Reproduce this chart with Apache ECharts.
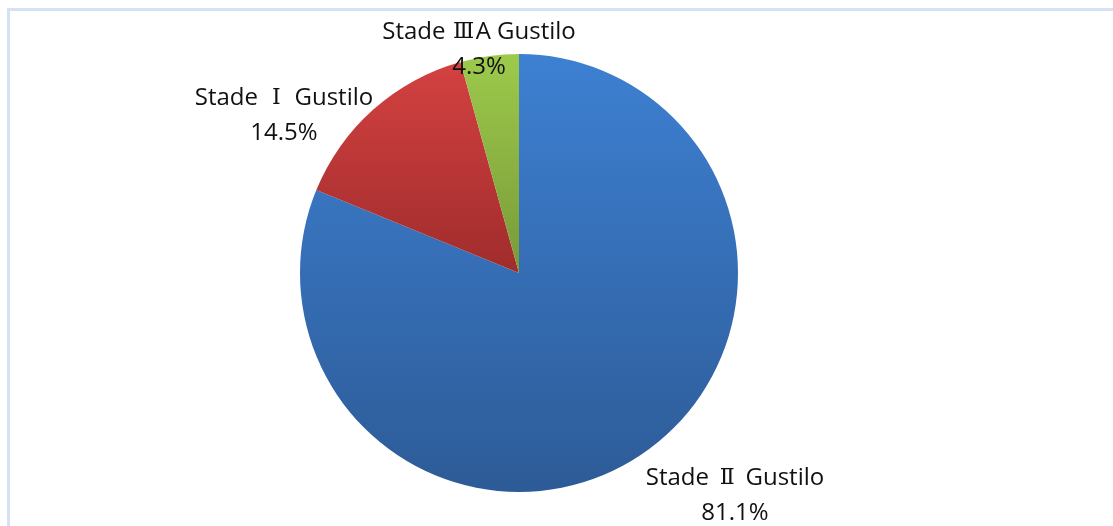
<!DOCTYPE html>
<html>
<head>
<meta charset="utf-8">
<style>
  html, body { margin: 0; padding: 0; background: #ffffff; }
  #chart { width: 1113px; height: 526px; }
</style>
<script src="https://cdn.jsdelivr.net/npm/echarts@6/dist/echarts.min.js"></script>
</head>
<body>
<div id="chart"></div>
<script>
// Gustilo stage breakdown (percent of cases)
var stageNames = ['Stade Ⅱ Gustilo', 'Stade Ⅰ Gustilo', 'Stade ⅢA Gustilo'];
var stageValues = [81.1, 14.5, 4.3];

// top / bottom shades for each slice
var sliceTop = ['#3d80d2', '#d44141', '#9dca4c'];
var sliceBottom = ['#2d5b97', '#a02c2c', '#789a38'];

// label anchor (centre of the two-line label) per slice
var labelPos = [[735, 496], [284, 116], [479, 50]];

var chart = echarts.init(document.getElementById('chart'), null, { renderer: 'canvas' });

var data = stageNames.map(function (name, i) {
  return {
    name: name,
    value: stageValues[i],
    itemStyle: {
      color: new echarts.graphic.LinearGradient(0, 0, 0, 1, [
        { offset: 0, color: sliceTop[i] },
        { offset: 1, color: sliceBottom[i] }
      ])
    }
  };
});

var labelFont = '"Open Sans", sans-serif';
var labelSize = 24;

chart.setOption({
  animation: false,
  backgroundColor: '#ffffff',
  graphic: [{
    type: 'rect',
    shape: { x: 8.5, y: 9.5, width: 1120, height: 530 },
    style: { fill: 'none', stroke: '#d5e2f4', lineWidth: 3 },
    silent: true
  }],
  series: [{
    type: 'pie',
    center: [519, 273],
    radius: [0, 219],
    startAngle: 90,
    clockwise: true,
    data: data,
    label: {
      show: true,
      position: 'outside',
      // roman numerals are set as full-width serif glyphs
      formatter: function (p) {
        var parts = p.name.split(/([\u2160-\u216B])/);
        var line = parts.map(function (s) {
          if (!s) return '';
          return /[\u2160-\u216B]/.test(s) ? '{r|' + s + '}' : '{t|' + s.replace(/ /g, '\u00a0') + '}';
        }).join('');
        return line + '\n{t|' + p.value + '%}';
      },
      color: '#111111',
      fontFamily: labelFont,
      fontSize: labelSize,
      lineHeight: 35,
      align: 'center',
      rich: {
        t: { fontFamily: labelFont, fontSize: labelSize, lineHeight: 35, color: '#111111' },
        r: {
          fontFamily: '"DejaVu Serif", serif', fontSize: labelSize - 2, lineHeight: 35,
          color: '#111111', width: 24, align: 'center'
        }
      }
    },
    labelLine: { show: false },
    labelLayout: function (params) {
      var p = labelPos[params.dataIndex];
      return { x: p[0], y: p[1], align: 'center', verticalAlign: 'middle' };
    },
    emphasis: { disabled: true }
  }]
});
</script>
</body>
</html>
